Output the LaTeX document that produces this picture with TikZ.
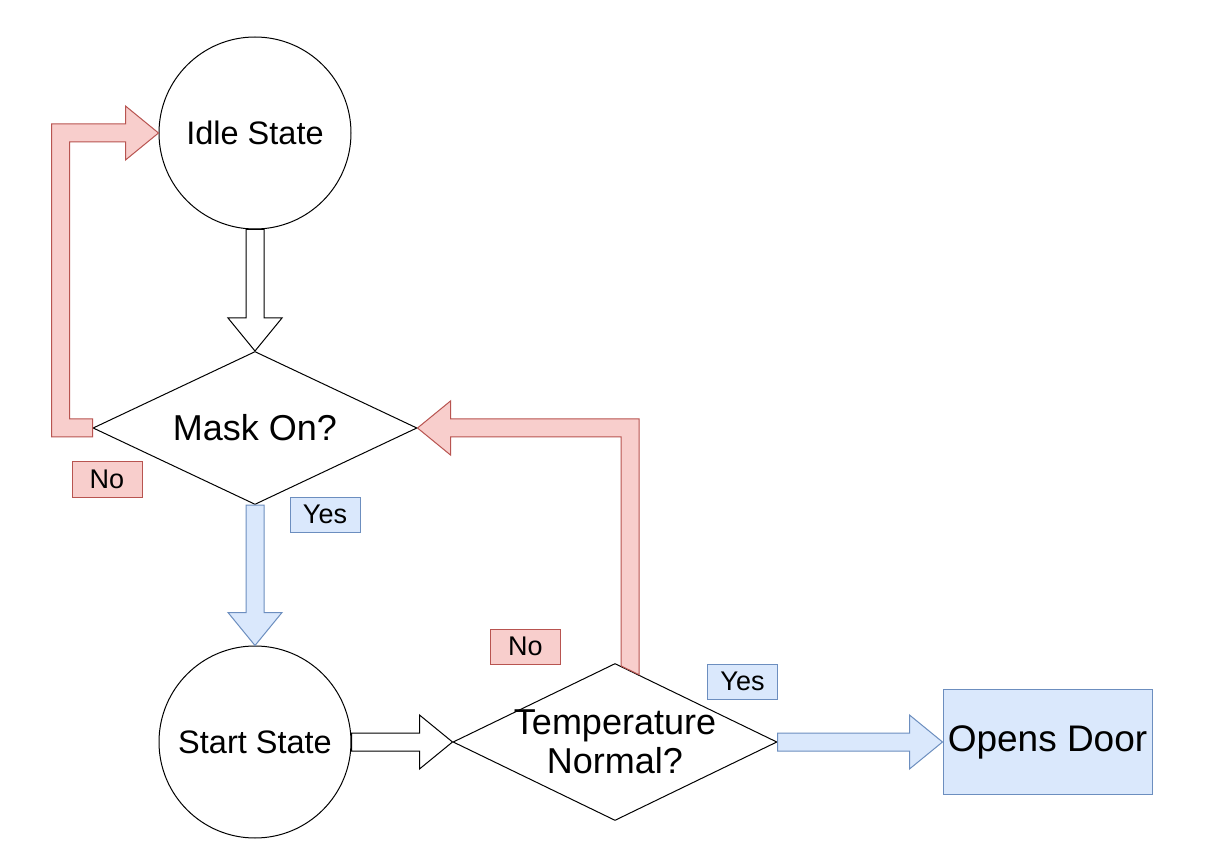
\documentclass[tikz,border=0pt]{standalone}
\usepackage{fontspec}
\setmainfont{Liberation Sans}
\usetikzlibrary{shapes.geometric,calc}
\definecolor{redf}{HTML}{F8CECC}
\definecolor{redd}{HTML}{B85450}
\definecolor{bluef}{HTML}{DAE8FC}
\definecolor{blued}{HTML}{6C8EBF}
\begin{document}
\begin{tikzpicture}[x=1pt,y=-1pt,
  stnode/.style={circle,draw=black,fill=white,line width=1pt,minimum size=192pt,inner sep=0pt,font=\fontsize{32.5}{38}\selectfont},
  decnode/.style={diamond,draw=black,fill=white,line width=1pt,minimum width=324pt,inner sep=0pt},
  dtext/.style={font=\fontsize{36}{39}\selectfont,align=center,inner sep=0pt},
  actnode/.style={rectangle,draw=blued,fill=bluef,line width=1pt,minimum width=209pt,minimum height=105pt,inner sep=0pt,font=\fontsize{37}{42}\selectfont},
  tagbox/.style={rectangle,line width=1pt,minimum width=70pt,minimum height=35pt,inner sep=0pt,font=\fontsize{27}{31}\selectfont},
  notag/.style={tagbox,draw=redd,fill=redf},
  yestag/.style={tagbox,draw=blued,fill=bluef},
  blockw/.style={draw=black,fill=white,line width=1pt},
  blockr/.style={draw=redd,fill=redf,line width=1pt},
  blockb/.style={draw=blued,fill=bluef,line width=1pt},
]
\useasboundingbox[fill=white] (0,0) rectangle (1216,866);

% nodes
\node[stnode] (idle) at (255,133) {Idle State};
\node[decnode,minimum height=153pt] (mask) at (255,428) {};
\node[dtext] (maskt) at (mask.center) {Mask On?};
\node[stnode] (start) at (255,742) {Start State};
\node[decnode,minimum height=157pt] (temp) at (615,742) {};
\node[dtext] (tempt) at (temp.center) {Temperature\\Normal?};
\node[actnode] (door) at (1047.5,742) {Opens Door};

\node[notag] (no1) at (107,479.5) {No};
\node[yestag] (yes1) at (325,514.5) {Yes};
\node[notag] (no2) at (525.5,646.5) {No};
\node[yestag] (yes2) at (742.5,681.5) {Yes};

\coordinate (c1) at (60.5,0);
\coordinate (c2) at (630,0);

% Idle -> Mask
\draw[blockw] ($(idle.south)+(-9,0)$) -- ($(mask.north)+(-9,-33)$) -- ($(mask.north)+(-27,-33)$)
  -- (mask.north) -- ($(mask.north)+(27,-33)$) -- ($(mask.north)+(9,-33)$) -- ($(idle.south)+(9,0)$) -- cycle;

% Mask -> Start (Yes)
\draw[blockb] ($(mask.south)+(-9,0)$) -- ($(start.north)+(-9,-33)$) -- ($(start.north)+(-27,-33)$)
  -- (start.north) -- ($(start.north)+(27,-33)$) -- ($(start.north)+(9,-33)$) -- ($(mask.south)+(9,0)$) -- cycle;

% Start -> Temp
\draw[blockw] ($(start.east)+(0,-9)$) -- ($(temp.west)+(-33,-9)$) -- ($(temp.west)+(-33,-27)$)
  -- (temp.west) -- ($(temp.west)+(-33,27)$) -- ($(temp.west)+(-33,9)$) -- ($(start.east)+(0,9)$) -- cycle;

% Temp -> Door (Yes)
\draw[blockb] ($(temp.east)+(0,-9)$) -- ($(door.west)+(-33,-9)$) -- ($(door.west)+(-33,-27)$)
  -- (door.west) -- ($(door.west)+(-33,27)$) -- ($(door.west)+(-33,9)$) -- ($(temp.east)+(0,9)$) -- cycle;

% Mask -> Idle (No)
\draw[blockr] ($(mask.west)+(0,-9)$) -- ($(c1|-mask.west)+(9,-9)$) -- ($(c1|-idle.west)+(9,9)$)
  -- ($(idle.west)+(-33,9)$) -- ($(idle.west)+(-33,27)$) -- (idle.west) -- ($(idle.west)+(-33,-27)$)
  -- ($(idle.west)+(-33,-9)$) -- ($(c1|-idle.west)+(-9,-9)$) -- ($(c1|-mask.west)+(-9,9)$)
  -- ($(mask.west)+(0,9)$) -- cycle;

% Temp -> Mask (No)
\draw[blockr] ($(temp.north)!6/162!(temp.east)$) -- ($(c2|-mask.east)+(-9,9)$) -- ($(mask.east)+(33,9)$)
  -- ($(mask.east)+(33,27)$) -- (mask.east) -- ($(mask.east)+(33,-27)$) -- ($(mask.east)+(33,-9)$)
  -- ($(c2|-mask.east)+(9,-9)$) -- ($(temp.north)!24/162!(temp.east)$) -- cycle;

\end{tikzpicture}
\end{document}
